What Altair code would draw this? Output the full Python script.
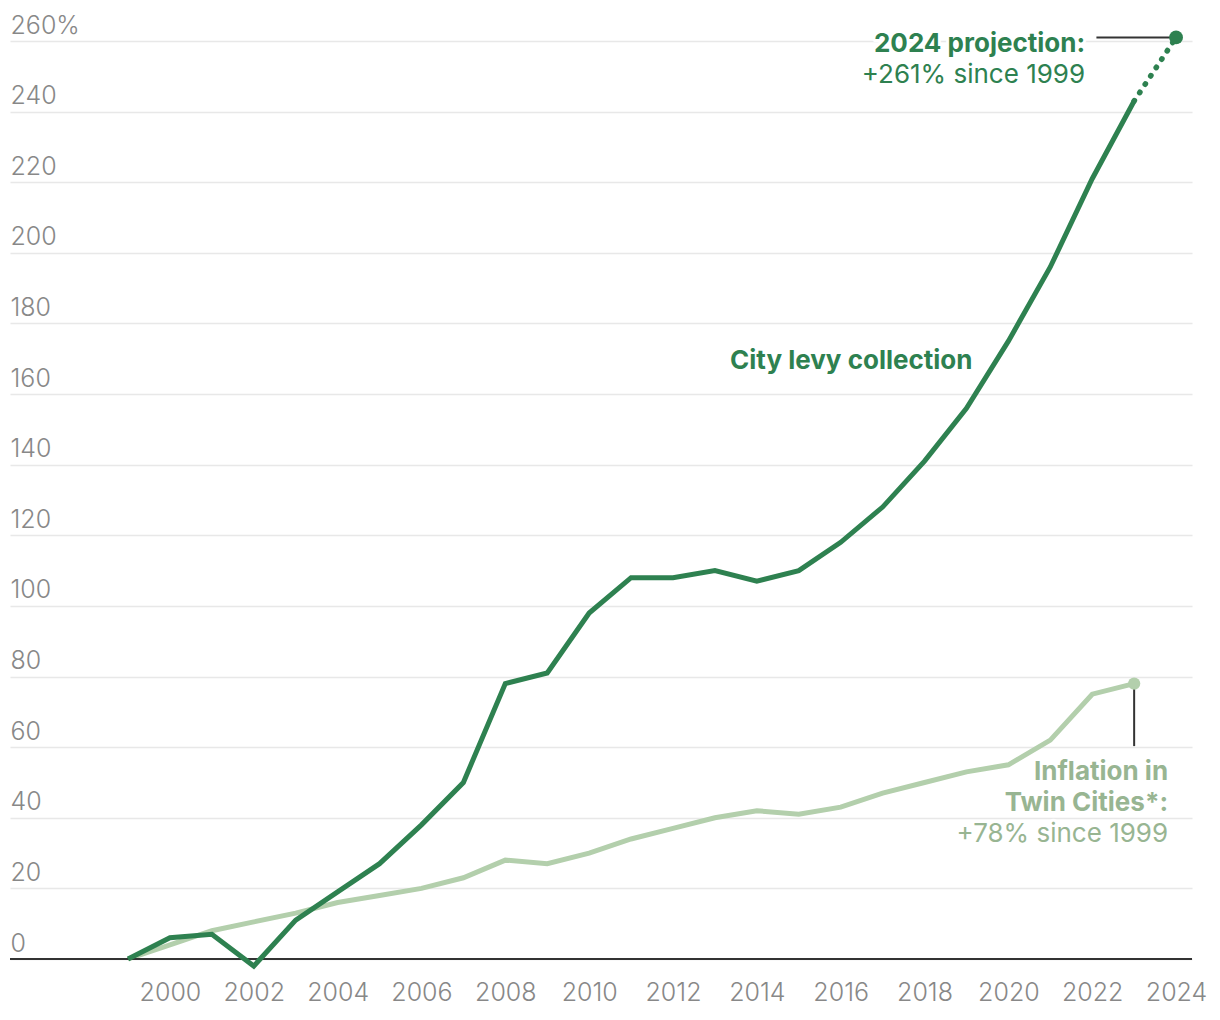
import altair as alt
import pandas as pd

years = list(range(1999, 2025))
levy = [0, 6, 7, -2, 11, 19, 27, 38, 50, 78, 81, 98, 108, 108, 110, 107, 110,
        118, 128, 141, 156, 175, 196, 221, 243, 261]
infl_years = list(range(1999, 2024))
inflation = [0, 4, 8, 10.5, 13, 16, 18, 20, 23, 28, 27, 30, 34, 37, 40, 42, 41,
             43, 47, 50, 53, 55, 62, 75, 78]

y_ticks = list(range(0, 261, 20))
x_ticks = list(range(2000, 2025, 2))

DARK = "#2e8150"
LIGHT = "#b3cfac"
LIGHT_TEXT = "#98b592"
FONT = "Inter"

levy_df = pd.DataFrame({"year": years, "value": levy})
solid_df = levy_df[levy_df.year <= 2023]
dotted_df = levy_df[levy_df.year >= 2023]
infl_df = pd.DataFrame({"year": infl_years, "value": inflation})

xs = alt.Scale(domain=[1996.185, 2024.38], nice=False)
ys = alt.Scale(domain=[0, 260], nice=False)

X = alt.X("year:Q", scale=xs, title=None,
          axis=alt.Axis(values=x_ticks, format="d", grid=False, domain=False, ticks=False,
                        labelFont=FONT, labelFontSize=25, labelFontWeight=300,
                        labelColor="#888888", labelPadding=21, labelFlush=False))
Y = alt.Y("value:Q", scale=ys, title=None,
          axis=alt.Axis(values=y_ticks, grid=True, gridColor="#e8e8e8", gridWidth=1.5,
                        domain=False, ticks=False, labelAlign="left", labelBaseline="alphabetic",
                        labelPadding=0, labelOffset=-8, labelFont=FONT, labelFontSize=25,
                        labelFontWeight=300, labelColor="#888888",
                        labelExpr="datum.value == 260 ? '260%' : datum.label"))

base_grid = alt.Chart(infl_df).mark_line(opacity=0).encode(x=X, y=Y)

zero = alt.Chart(pd.DataFrame({"value": [0]})).mark_rule(color="#333333", strokeWidth=2).encode(
    y=alt.Y("value:Q", scale=ys))

infl_line = alt.Chart(infl_df).mark_line(color=LIGHT, strokeWidth=5, strokeJoin="miter").encode(
    x=alt.X("year:Q", scale=xs), y=alt.Y("value:Q", scale=ys))
levy_line = alt.Chart(solid_df).mark_line(color=DARK, strokeWidth=5, strokeJoin="miter").encode(
    x=alt.X("year:Q", scale=xs), y=alt.Y("value:Q", scale=ys))
levy_dot = alt.Chart(dotted_df).mark_line(color=DARK, strokeWidth=5.5, strokeCap="round",
                                          strokeDash=[0.5, 9.5]).encode(
    x=alt.X("year:Q", scale=xs), y=alt.Y("value:Q", scale=ys))

rule_df = pd.DataFrame({"x": [2022.1, 2023], "x2": [2024, 2023], "y": [261, 78], "y2": [261, 60.3]})
rules = alt.Chart(rule_df).mark_rule(color="#333333", strokeWidth=2).encode(
    x=alt.X("x:Q", scale=xs), x2="x2:Q", y=alt.Y("y:Q", scale=ys), y2="y2:Q")

pt_df = pd.DataFrame({"year": [2024, 2023], "value": [261, 78], "c": [DARK, LIGHT], "s": [190, 150]})
points = alt.Chart(pt_df).mark_circle(opacity=1).encode(
    x=alt.X("year:Q", scale=xs), y=alt.Y("value:Q", scale=ys),
    color=alt.Color("c:N", scale=None), size=alt.Size("s:Q", scale=None))

ann_text = ["2024 projection:", "+261% since 1999", "City levy collection",
            "Inflation in", "Twin Cities*:", "+78% since 1999"]
ann_x = [2021.83, 2021.83, 2013.36, 2023.81, 2023.81, 2023.81]
ann_y = [256.9, 248.1, 167.1, 50.7, 41.9, 33.1]
ann_weight = ["bold", "normal", "bold", "bold", "bold", "normal"]
ann_align = ["right", "right", "left", "right", "right", "right"]
ann_color = [DARK, DARK, DARK, LIGHT_TEXT, LIGHT_TEXT, LIGHT_TEXT]
ann_df = pd.DataFrame({"t": ann_text, "x": ann_x, "y": ann_y, "w": ann_weight,
                       "a": ann_align, "c": ann_color})

def text_layer(halo):
    layers = []
    for w in ["bold", "normal"]:
        for a in ["left", "right"]:
            sub = ann_df[(ann_df.w == w) & (ann_df.a == a)]
            if len(sub) == 0:
                continue
            kw = dict(font=FONT, fontSize=26, fontWeight=w, align=a, baseline="alphabetic")
            if halo:
                m = alt.Chart(sub).mark_text(fill="white", stroke="white", strokeWidth=6,
                                             strokeJoin="round", **kw)
                enc = {}
            else:
                m = alt.Chart(sub).mark_text(**kw)
                enc = {"color": alt.Color("c:N", scale=None)}
            layers.append(m.encode(x=alt.X("x:Q", scale=xs), y=alt.Y("y:Q", scale=ys),
                                   text="t:N", **enc))
    return layers

chart = alt.layer(
    base_grid, infl_line, zero, levy_line, levy_dot, rules, points,
    *text_layer(True), *text_layer(False)
).properties(
    width=1182, height=918,
    autosize=alt.AutoSizeParams(type="none"),
    padding={"left": 2, "top": 33, "right": 20, "bottom": 60},
    background="white",
).configure_view(strokeWidth=0)

chart.save("out.html", embed_options={"renderer": "svg", "actions": False})
